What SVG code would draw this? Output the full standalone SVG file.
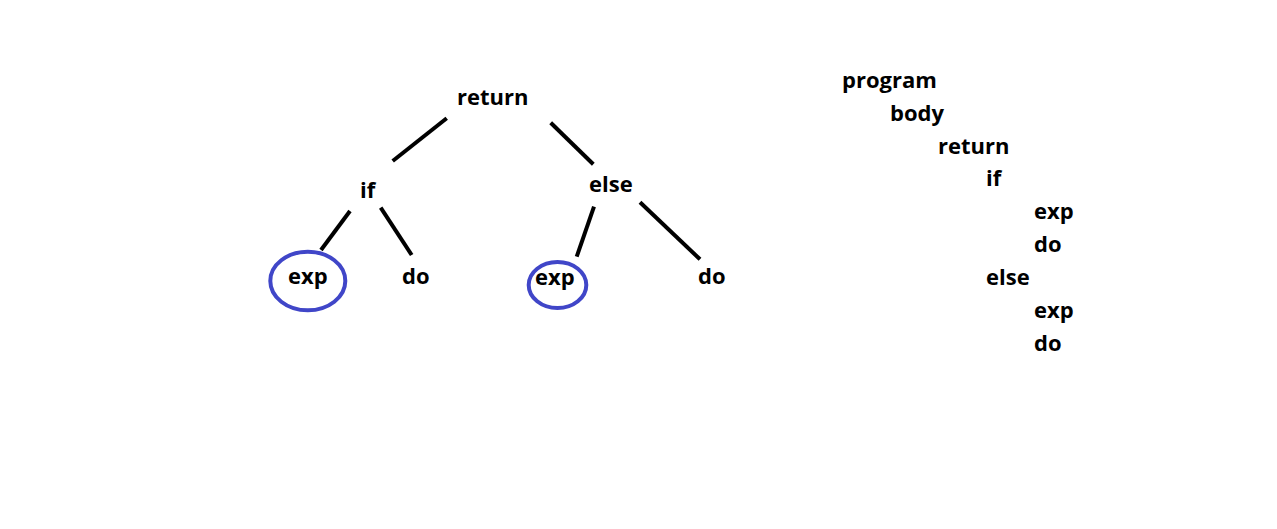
<svg xmlns="http://www.w3.org/2000/svg" width="1277" height="529" viewBox="0 0 1277 529">
<style>
text{font-family:"Open Sans","Liberation Sans",sans-serif;font-weight:700;font-size:22px;fill:#000}
.edge{stroke:#000;stroke-width:4;stroke-linecap:butt;fill:none}
.ring{stroke:#4046c8;stroke-width:4;fill:none}
</style>
<rect width="1277" height="529" fill="#fff"/>
<g id="connectors">
<line class="edge" x1="446.7" y1="118.3" x2="392.7" y2="161"/>
<line class="edge" x1="550.7" y1="122.7" x2="593.3" y2="164.3"/>
<line class="edge" x1="350" y1="211" x2="321" y2="250"/>
<line class="edge" x1="380.7" y1="207.7" x2="411.7" y2="255"/>
<line class="edge" x1="594" y1="206.7" x2="576.7" y2="256.7"/>
<line class="edge" x1="640" y1="202.3" x2="700" y2="259.3"/>
</g>
<g id="n-return"><text x="457" y="105">return</text></g>
<g id="n-if"><text x="360" y="198">if</text></g>
<g id="n-else"><text x="589" y="192">else</text></g>
<g id="n-exp1"><ellipse class="ring" cx="307.8" cy="281" rx="37.5" ry="29.3"/><text x="288" y="284">exp</text></g>
<g id="n-do1"><text x="402" y="284">do</text></g>
<g id="n-exp2"><ellipse class="ring" cx="557.5" cy="285" rx="28.8" ry="23"/><text x="535" y="285">exp</text></g>
<g id="n-do2"><text x="698" y="284">do</text></g>
<g id="outline">
<text x="842" y="88">program</text>
<text x="890" y="121">body</text>
<text x="938" y="154">return</text>
<text x="986" y="186">if</text>
<text x="1034" y="219">exp</text>
<text x="1034" y="252">do</text>
<text x="986" y="285">else</text>
<text x="1034" y="318">exp</text>
<text x="1034" y="351">do</text>
</g>
</svg>
